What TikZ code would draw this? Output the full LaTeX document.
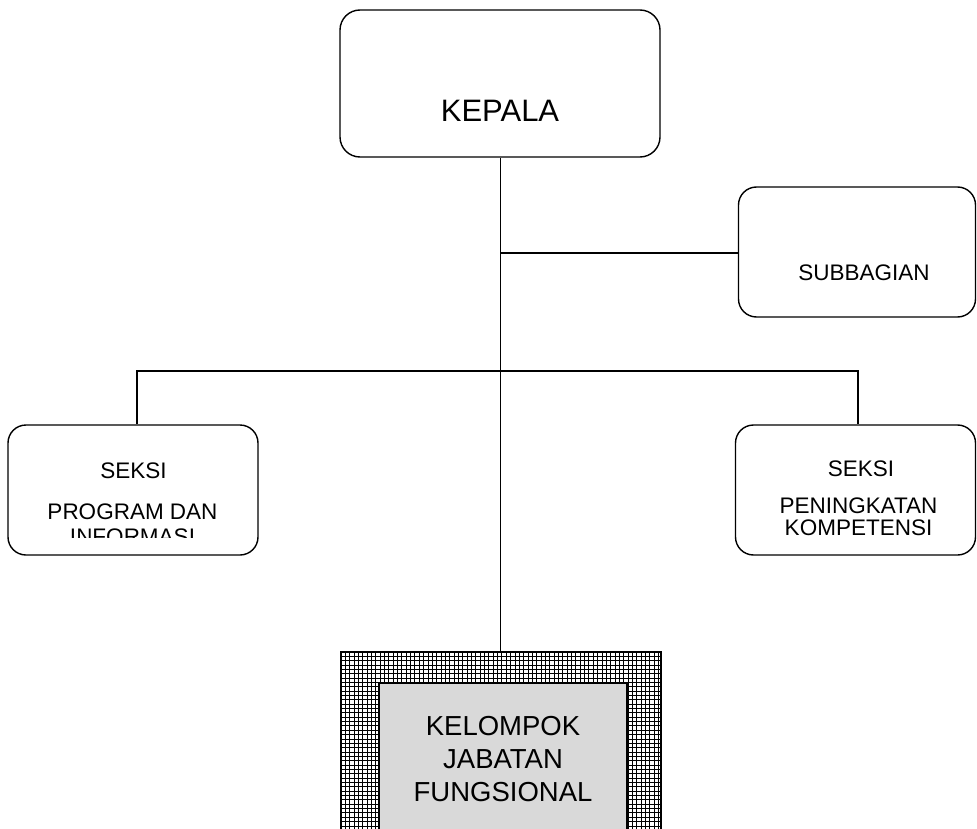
\documentclass[tikz,border=0pt]{standalone}
\usepackage{fontspec}
\setmainfont{Liberation Sans}
\begin{document}
\begin{tikzpicture}[x=1pt,y=-1pt,
  orgbox/.style={draw=black, line width=1.4pt, rounded corners=18pt, inner sep=0pt},
  lbl/.style={inner sep=0pt, font=\fontsize{22.5}{19}\selectfont, align=center, text height=16pt, text depth=0pt},
  conn/.style={draw=black, line width=1.5pt}]
\useasboundingbox (0,0) rectangle (977,829);
\clip (0,0) rectangle (977,829);
% boxes
\node[orgbox, rounded corners=20pt, minimum width=320pt, minimum height=147pt] (kepala) at (500,83.5) {};
\node[orgbox, minimum width=237pt, minimum height=130pt] (subbagian) at (857,252) {};
\node[orgbox, minimum width=250pt, minimum height=130pt] (seksi1) at (133,490) {};
\node[orgbox, minimum width=240pt, minimum height=130pt] (seksi2) at (855.5,490) {};
% labels
\node[lbl, font=\fontsize{31}{32}\selectfont, text height=22pt] (tkepala) at (500,111) {KEPALA};
\node[lbl] (tsub) at (864,272) {SUBBAGIAN};
\node[lbl] (ts1a) at (133.5,470) {SEKSI};
\begin{scope}
\clip (8,425) rectangle (258,537.5);
\node[lbl] (ts1b) at (132.5,511.7) {PROGRAM DAN};
\node[lbl] (ts1c) at (132.5,536.6) {INFORMASI};
\end{scope}
\node[lbl] (ts2a) at (861,468) {SEKSI};
\node[lbl] (ts2b) at (858.5,505.7) {PENINGKATAN};
\node[lbl] (ts2c) at (858.5,527.5) {KOMPETENSI};
% bottom grid box
\begin{scope}
\clip (341,652) rectangle (661,840);
\fill[white] (341,652) rectangle (661,840);
\foreach \i in {0,...,75} {
  \draw[black, line width=1pt] ({341+4.35*\i},652) -- ({341+4.35*\i},840);
}
\foreach \j in {0,...,45} {
  \draw[black, line width=1pt] (341,{652+4.35*\j}) -- (661,{652+4.35*\j});
}
\end{scope}
\draw[black, line width=1.2pt] (341,652) rectangle (661,840);
\node[draw=black, line width=1.4pt, fill={rgb,255:red,217;green,217;blue,217}, minimum width=248pt, minimum height=160pt, inner sep=0pt, anchor=north] (kelompok) at (503,683) {};
\node[lbl, font=\fontsize{27.5}{33}\selectfont, text height=20pt] (tkel1) at (503,725) {KELOMPOK};
\node[lbl, font=\fontsize{27.5}{33}\selectfont, text height=20pt] (tkel2) at (503,758) {JABATAN};
\node[lbl, font=\fontsize{27.5}{33}\selectfont, text height=20pt] (tkel3) at (503,791) {FUNGSIONAL};
\coordinate (gridtop) at (500.5,652);
% connectors
\coordinate (j1) at (500.5,253);
\coordinate (hl) at (137,371);
\coordinate (hr) at (858,371);
\draw[conn] (kepala.south -| j1) -- (gridtop);
\draw[conn] (j1) -- (subbagian.west |- j1);
\draw[conn] (hl |- seksi1.north) -- (hl) -- (hr) -- (hr |- seksi2.north);
\end{tikzpicture}
\end{document}
